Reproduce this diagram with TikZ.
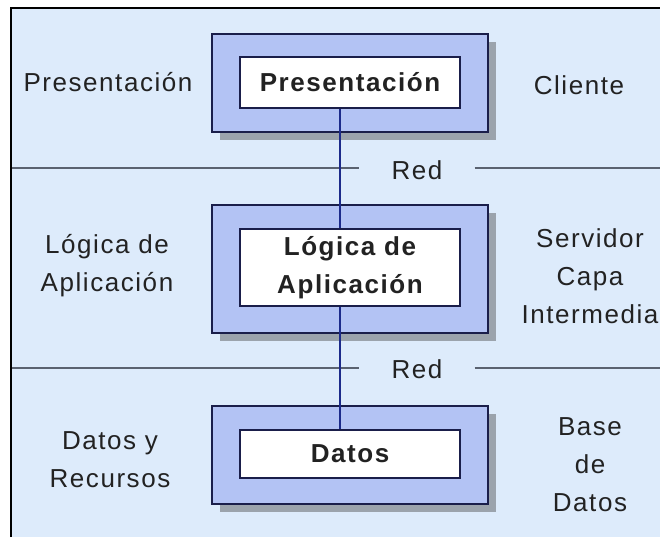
\documentclass[tikz,border=0pt]{standalone}
\usepackage{fontspec}
\setmainfont{Liberation Sans}[LetterSpace=6]
\usetikzlibrary{shadows}

\definecolor{fondo}{HTML}{DDEBFB}
\definecolor{capafill}{HTML}{B3C3F4}
\definecolor{marino}{HTML}{1A1E4A}
\definecolor{enlace}{HTML}{1C2A8A}
\definecolor{linea}{HTML}{5A6270}
\definecolor{texto}{HTML}{222222}

\begin{document}
\begin{tikzpicture}[x=0.75pt,y=-0.75pt]
		\tikzstyle{every node}+=[text=texto,font=\fontsize{19.5}{28.5}\selectfont,align=center]
		\tikzstyle{capa}=[draw=marino,fill=capafill,line width=1.5pt,minimum width=207pt,
			drop shadow={shadow xshift=6pt,shadow yshift=-6pt,opacity=.45,fill=black!70}]
		\tikzstyle{caja}=[draw=marino,fill=white,line width=1.5pt,minimum width=165pt,
			font=\fontsize{19.5}{28.5}\selectfont\bfseries]
		\tikzstyle{red}=[inner xsep=24pt,inner ysep=0pt]
		\useasboundingbox (0,0) rectangle (660,537);
		\fill [white] (0,0) rectangle (660,537);
		\fill [fondo] (11,8) rectangle (660,537);
		\draw [black,line width=1.5pt] (11,537) -- (11,7.5) -- (660,7.5);
		% capas
		\node [capa,minimum height=73.5pt] (capa1) at (350,82.5) {};
		\node [capa,minimum height=96pt] (capa2) at (350,268.5) {};
		\node [capa,minimum height=73.5pt] (capa3) at (350,455) {};
		% lineas de red
		\node [red] (red1) at (417,170) {Red};
		\node [red] (red2) at (417,369) {Red};
		\coordinate (izq1) at (12,168);
		\coordinate (der1) at (660,168);
		\coordinate (izq2) at (12,368);
		\coordinate (der2) at (660,368);
		\draw [linea,line width=1pt] (izq1) -- (izq1 -| red1.west);
		\draw [linea,line width=1pt] (der1 -| red1.east) -- (der1);
		\draw [linea,line width=1pt] (izq2) -- (izq2 -| red2.west);
		\draw [linea,line width=1pt] (der2 -| red2.east) -- (der2);
		% cajas
		\coordinate (bus1) at (340,107);
		\coordinate (bus2) at (340,430);
		\draw [enlace,line width=1.2pt] (bus1) -- (bus2);
		\node [caja,minimum height=38.25pt] (pres) at (350,82) {Presentación};
		\node [caja,minimum height=57.75pt] (logica) at (350,267.5) {Lógica de\\Aplicación};
		\node [caja,minimum height=36pt] (datos) at (350,454) {Datos};
		% etiquetas
		\node (capaPres) at (108,82) {Presentación};
		\node (capaLog) at (107,266) {Lógica de\\Aplicación};
		\node (capaDat) at (110,460) {Datos y\\Recursos};
		\node (cliente) at (579,85) {Cliente};
		\node (servidor) at (590,276) {Servidor\\Capa\\Intermedia};
		\node (base) at (590,465) {Base\\de\\Datos};
\end{tikzpicture}
\end{document}
